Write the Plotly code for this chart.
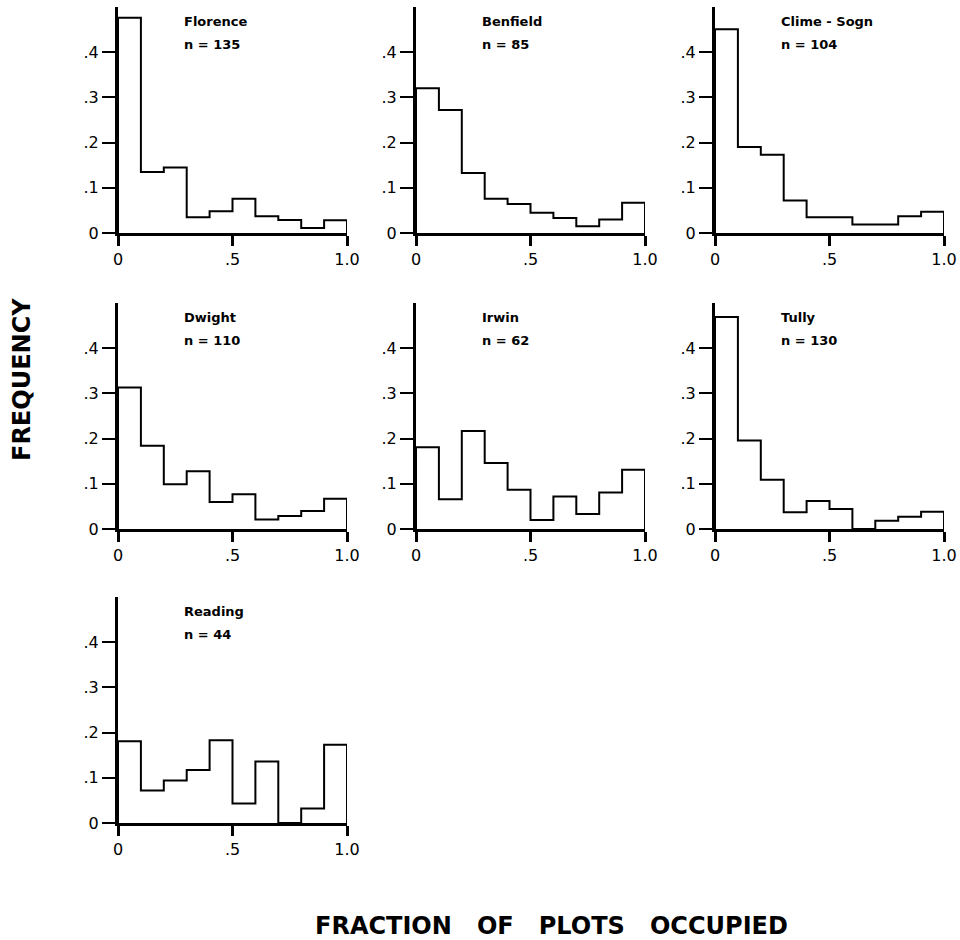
import plotly.graph_objects as go

bin_edges = [0.0, 0.1, 0.2, 0.3, 0.4, 0.5, 0.6, 0.7, 0.8, 0.9, 1.0]

site_names = ["Florence", "Benfield", "Clime - Sogn", "Dwight", "Irwin", "Tully", "Reading"]
site_n = [135, 85, 104, 110, 62, 130, 44]
n_labels = ["n = 135", "n = 85", "n = 104", "n = 110", "n = 62", "n = 130", "n = 44"]

florence = [0.476, 0.135, 0.145, 0.035, 0.048, 0.076, 0.037, 0.029, 0.011, 0.028]
benfield = [0.320, 0.272, 0.133, 0.076, 0.064, 0.045, 0.033, 0.015, 0.030, 0.067]
clime_sogn = [0.451, 0.190, 0.173, 0.072, 0.035, 0.035, 0.019, 0.019, 0.037, 0.047]
dwight = [0.313, 0.184, 0.099, 0.128, 0.060, 0.077, 0.021, 0.029, 0.040, 0.067]
irwin = [0.181, 0.066, 0.217, 0.146, 0.087, 0.020, 0.072, 0.033, 0.081, 0.131]
tully = [0.469, 0.196, 0.109, 0.037, 0.062, 0.044, 0.000, 0.018, 0.027, 0.038]
reading = [0.181, 0.072, 0.094, 0.117, 0.183, 0.043, 0.136, 0.000, 0.032, 0.173]

series = [florence, benfield, clime_sogn, dwight, irwin, tully, reading]

x_ticks = [0, 0.5, 1.0]
x_ticktext = ["0", ".5", "1.0"]
y_ticks = [0, 0.1, 0.2, 0.3, 0.4]
y_ticktext = ["0", ".1", ".2", ".3", ".4"]

W, H = 960, 940
col_left = [118, 416, 715]
row_zero = [233, 529, 823]
panel_w = 229
panel_h = 226

fig = go.Figure()
font_fam = "DejaVu Sans"

for i, (vals, name, nl) in enumerate(zip(series, site_names, n_labels)):
    r, c = divmod(i, 3)
    k = "" if i == 0 else str(i + 1)
    xa, ya = "x" + k, "y" + k
    x0 = col_left[c] / W
    x1 = (col_left[c] + panel_w) / W
    y0 = 1 - row_zero[r] / H
    y1 = 1 - (row_zero[r] - panel_h) / H
    xs = [0.0] + bin_edges + [1.0]
    ys = [0.0] + vals + [vals[-1], 0.0]
    fig.add_trace(go.Scatter(x=xs, y=ys, mode="lines", line=dict(color="black", width=2, shape="hv"),
                             xaxis=xa, yaxis=ya, showlegend=False, hoverinfo="skip"))
    fig.layout["xaxis" + k] = dict(domain=[x0, x1], range=[0, 1.0], anchor=ya, showgrid=False, zeroline=False,
                                   automargin=False,
                                   showline=True, linecolor="black", linewidth=3,
                                   ticks="outside", ticklen=10, tickwidth=3, tickcolor="black",
                                   tickvals=x_ticks, ticktext=x_ticktext,
                                   tickfont=dict(family=font_fam, size=16, color="black"))
    fig.layout["yaxis" + k] = dict(domain=[y0, y1], range=[0, 0.5], anchor=xa, showgrid=False, zeroline=False,
                                   automargin=False,
                                   showline=True, linecolor="black", linewidth=3,
                                   ticks="outside", ticklen=13, tickwidth=2, tickcolor="black",
                                   tickvals=y_ticks, ticktext=y_ticktext,
                                   tickfont=dict(family=font_fam, size=16, color="black"))
    fig.add_annotation(x=0.28, y=0.467, xref=xa, yref=ya, text="<b>" + name + "</b>", showarrow=False,
                       xanchor="left", yanchor="middle", font=dict(family=font_fam, size=13, color="black"))
    fig.add_annotation(x=0.28, y=0.418, xref=xa, yref=ya, text="<b>" + nl + "</b>", showarrow=False,
                       xanchor="left", yanchor="middle", font=dict(family=font_fam, size=13, color="black"))

fig.add_annotation(x=22 / W, y=1 - 380 / H, xref="paper", yref="paper", text="<b>FREQUENCY</b>",
                   textangle=-90, showarrow=False, xanchor="center", yanchor="middle",
                   font=dict(family=font_fam, size=24, color="black"))
fig.add_annotation(x=551 / W, y=1 - 926 / H, xref="paper", yref="paper",
                   text="<b>FRACTION   OF   PLOTS   OCCUPIED</b>", showarrow=False,
                   xanchor="center", yanchor="middle", font=dict(family=font_fam, size=24, color="black"))

fig.update_layout(width=W, height=H, margin=dict(l=0, r=0, t=0, b=0),
                  plot_bgcolor="white", paper_bgcolor="white")
fig.write_html("out.html", config={"displayModeBar": False},
               post_script="document.body.style.margin='0px';document.body.style.overflow='hidden';")
